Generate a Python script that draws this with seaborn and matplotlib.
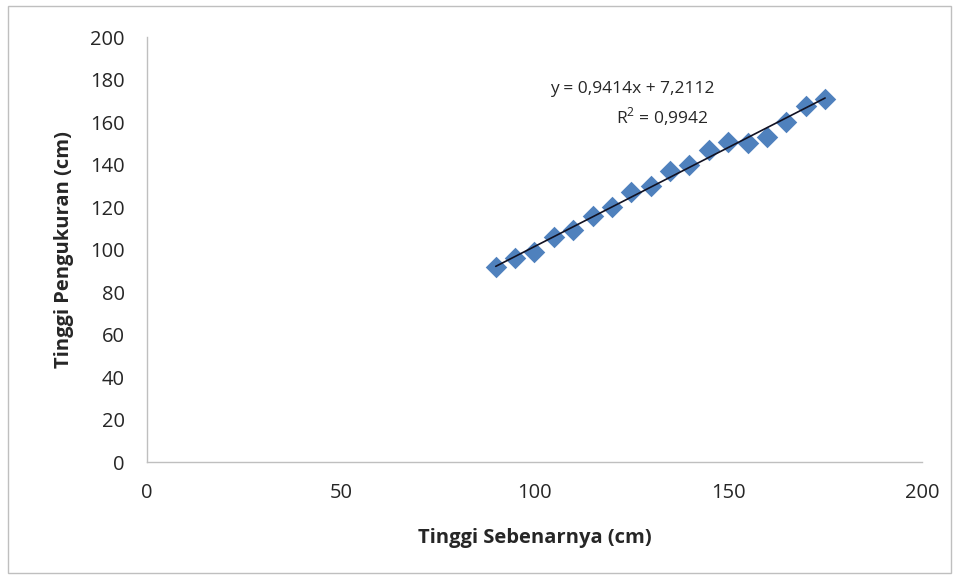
import numpy as np
import pandas as pd
import matplotlib
matplotlib.use("Agg")
import matplotlib.pyplot as plt
import seaborn as sns

# data
tinggi_sebenarnya = [90, 95, 100, 105, 110, 115, 120, 125, 130, 135,
                     140, 145, 150, 155, 160, 165, 170, 175]
tinggi_pengukuran = [92, 96, 99, 106, 109, 116, 120, 127, 130, 137,
                     140, 147, 150.5, 150, 153, 160, 167.5, 171]
x_ticks = [0, 50, 100, 150, 200]
y_ticks = [0, 20, 40, 60, 80, 100, 120, 140, 160, 180, 200]
eq_text = "y = 0,9414x + 7,2112"
r2_text = "R$^2$ = 0,9942"

df = pd.DataFrame({"x": tinggi_sebenarnya, "y": tinggi_pengukuran})

sns.set_theme(style="white")
plt.rcParams["font.family"] = ["Open Sans", "DejaVu Sans"]
plt.rcParams["mathtext.fontset"] = "custom"
plt.rcParams["mathtext.rm"] = "Open Sans"

fig = plt.figure(figsize=(9.59, 5.8), dpi=100)
ax = fig.add_axes([0.1533, 0.2034, 0.8081, 0.7326])

# outer chart border like the spreadsheet frame
fig.patches.append(plt.Rectangle((0.008, 0.012), 0.984, 0.978, transform=fig.transFigure,
                                 fill=False, edgecolor="#bfbfbf", linewidth=1))

sns.scatterplot(data=df, x="x", y="y", marker="D", s=120, color="#4F81BD",
                edgecolor="#4F81BD", linewidth=0, ax=ax, zorder=2)

# linear trendline
slope, intercept = np.polyfit(df["x"], df["y"], 1)
xs = np.array([df["x"].min(), df["x"].max()])
sns.lineplot(x=xs, y=slope * xs + intercept, color="#111122", linewidth=1.2, ax=ax, zorder=3)

ax.set_xlim(0, 200)
ax.set_ylim(0, 200)
ax.set_xticks(x_ticks)
ax.set_yticks(y_ticks)
ax.tick_params(axis="both", labelsize=14.5, length=0)
ax.tick_params(axis="x", pad=15)
ax.tick_params(axis="y", pad=16)
for lab in ax.get_xticklabels() + ax.get_yticklabels():
    lab.set_color("#262626")

for side in ["top", "right"]:
    ax.spines[side].set_visible(False)
for side in ["left", "bottom"]:
    ax.spines[side].set_color("#bfbfbf")
    ax.spines[side].set_linewidth(1)

ax.set_xlabel("Tinggi Sebenarnya (cm)", fontsize=14.5, fontweight="bold", color="#262626", labelpad=18)
ax.set_ylabel("Tinggi Pengukuran (cm)", fontsize=14.5, fontweight="bold", color="#262626", labelpad=12)

ax.text(125.2, 175.5, eq_text, fontsize=12.5, color="#262626", ha="center", va="center")
ax.text(133, 162.5, r2_text, fontsize=12.5, color="#262626", ha="center", va="center")

fig.savefig("out.png", dpi=100)
